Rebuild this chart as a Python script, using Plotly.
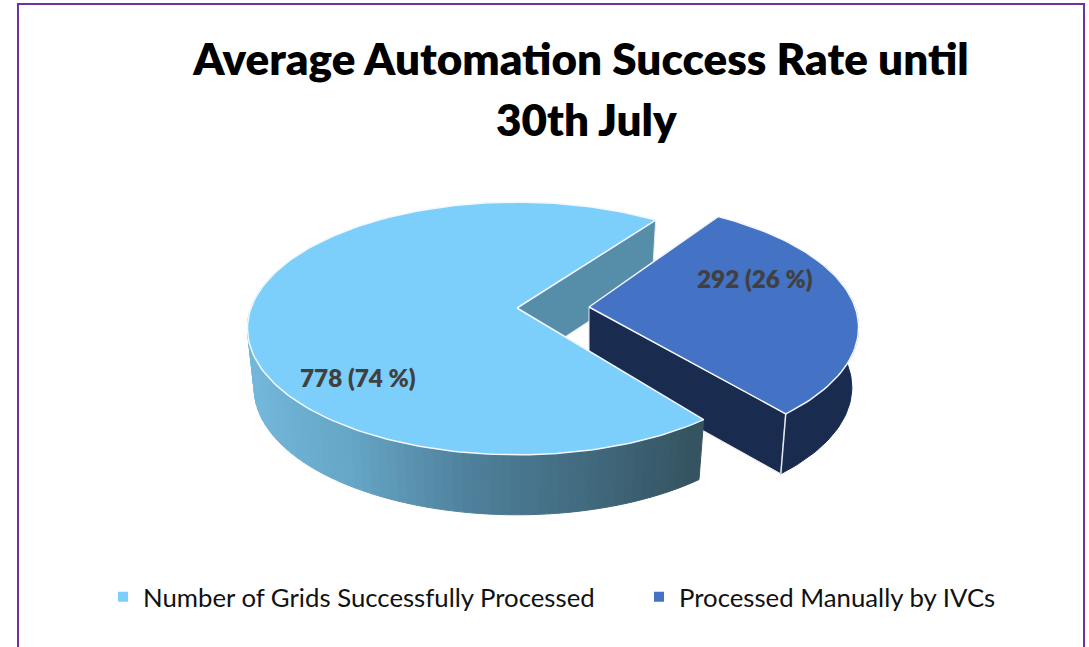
import numpy as np
import plotly.graph_objects as go

categories = ["Number of Grids Successfully Processed", "Processed Manually by IVCs"]
values = [778, 292]
percents = [74, 26]
title_lines = ["Average Automation Success Rate until", "30th July"]

LIGHT, BLUE = "#7dcffb", "#4472c4"
NAVY = "#1a2b50"
NOTCH = "#568da9"
EDGE = "#e4e8ee"
K, RX, RY, DEPTH, SHRINK, WARP = 0.162, 266, 123, 60, 0.025, 4.0
BIG_ROT, SMALL_ROT = 0.8, 3.5


def proj(deg, r, cx, cy, h, rot):
    d = np.asarray(deg, dtype=float)
    a = np.radians(d + WARP * np.sin(np.radians(2 * d)) + rot)
    u, v = r * np.cos(a), r * np.sin(a)
    s = 1 / (1 + K * v)
    return cx + RX * u * s * (1 - SHRINK * h), cy - RY * v * s + DEPTH * h


def grad(x):
    xs = [250, 350, 470, 600, 700]
    rs = [[0x74, 0xb8, 0xdc], [0x66, 0xa6, 0xc6], [0x4f, 0x80, 0x9b], [0x40, 0x68, 0x7c], [0x35, 0x53, 0x60]]
    return "rgb(%d,%d,%d)" % tuple(np.interp(x, xs, [c[i] for c in rs]) for i in range(3))


def poly(fig, x, y, fill, line=None, width=1):
    fig.add_trace(go.Scatter(x=list(x), y=list(y), mode="lines", fill="toself", fillcolor=fill,
                             line=dict(color=line or fill, width=width), showlegend=False, hoverinfo="skip"))


sweep = [360 * v / sum(values) for v in values]
half = sweep[1] / 2
big_a = np.linspace(half, half + sweep[0], 181)
small_a = np.linspace(-half, half, 81)
BC = (517, 308)
SC = (589, 307)

fig = go.Figure()

# large slice: inner notch wall (furthest back)
x0, y0 = proj(half, 1, *BC, 0, BIG_ROT)
x1, y1 = proj(half, 1, *BC, 1, BIG_ROT)
ax1, ay1 = proj(half, 0, *BC, 1, BIG_ROT)
poly(fig, [BC[0], x0, x1, ax1, BC[0]], [BC[1], y0, y1, ay1, BC[1]], NOTCH, EDGE, 1)

# small slice: cut face, outer wall, top
x0, y0 = proj(-half, 1, *SC, 0, SMALL_ROT)
x1, y1 = proj(-half, 1, *SC, 1, SMALL_ROT)
poly(fig, [SC[0], x0, x1, SC[0], SC[0]], [SC[1], y0, y1, SC[1] + DEPTH, SC[1]], NAVY, EDGE, 1)
seg = np.linspace(-half, 15, 50)
xt, yt = proj(seg, 1, *SC, 0, SMALL_ROT)
xb, yb = proj(seg, 1, *SC, 1, SMALL_ROT)
poly(fig, np.r_[xt, xb[::-1], xt[0]], np.r_[yt, yb[::-1], yt[0]], NAVY, NAVY, 1)
fig.add_trace(go.Scatter(x=[x0, x1], y=[y0, y1], mode="lines", line=dict(color=EDGE, width=1.5),
                         showlegend=False, hoverinfo="skip"))
xt, yt = proj(small_a, 1, *SC, 0, SMALL_ROT)
poly(fig, np.r_[SC[0], xt, SC[0]], np.r_[SC[1], yt, SC[1]], BLUE, "#f2f5fa", 1.5)

# large slice: outer gradient wall, top (in front of the small slice)
wall = np.linspace(165, half + sweep[0], 72)
for a, b in zip(wall[:-1], wall[1:]):
    seg = np.linspace(a, b, 4)
    xt, yt = proj(seg, 1, *BC, 0, BIG_ROT)
    xb, yb = proj(seg, 1, *BC, 1, BIG_ROT)
    c = grad(xt.mean())
    poly(fig, np.r_[xt, xb[::-1], xt[0]], np.r_[yt, yb[::-1], yt[0]], c)

xt, yt = proj(big_a, 1, *BC, 0, BIG_ROT)
poly(fig, np.r_[BC[0], xt, BC[0]], np.r_[BC[1], yt, BC[1]], LIGHT, "#f2f8fc", 1.5)

# legend entries, each in its own legend box
for name, col, lg in zip(categories, [LIGHT, BLUE], ["legend", "legend2"]):
    fig.add_trace(go.Scatter(x=[None], y=[None], mode="markers", name=name, legend=lg,
                             marker=dict(symbol="square", size=10, color=col)))

label_xy = [(358, 377.5), (755, 278.5)]
annots = [dict(x=p[0], y=p[1], xref="x", yref="y", showarrow=False,
               text=f"{v} ({q} %)", font=dict(family="Lato", size=24.3, weight=800, color="#404040"))
          for p, v, q in zip(label_xy, values, percents)]
annots.append(dict(x=586, y=119, xref="x", yref="y", showarrow=False, text=title_lines[1],
                   font=dict(family="Lato", size=44, weight=800, color="#000000")))

legend_font = dict(family="Lato", size=25.75, color="#111111")
fig.update_layout(
    width=1089, height=647, margin=dict(l=0, r=0, t=0, b=0),
    paper_bgcolor="white", plot_bgcolor="white",
    title=dict(text=title_lines[0], x=581 / 1089, xanchor="center", y=1 - 60 / 647, yanchor="middle",
               font=dict(family="Lato", size=44, weight=800, color="#000000")),
    xaxis=dict(visible=False, range=[0, 1089], fixedrange=True),
    yaxis=dict(visible=False, range=[647, 0], fixedrange=True),
    showlegend=True,
    legend=dict(x=103 / 1089, xanchor="left", y=1 - 597 / 647, yanchor="middle",
                font=legend_font, bgcolor="rgba(0,0,0,0)"),
    legend2=dict(x=639 / 1089, xanchor="left", y=1 - 597 / 647, yanchor="middle",
                 font=legend_font, bgcolor="rgba(0,0,0,0)"),
    shapes=[dict(type="rect", xref="x", yref="y", x0=18, y0=4, x1=1084, y1=700,
                 line=dict(color="#7030a0", width=2), layer="below")],
    annotations=annots,
)
fig.write_html("out.html", config=dict(displayModeBar=False),
               post_script="document.body.style.margin='0';document.body.style.overflow='hidden';")
